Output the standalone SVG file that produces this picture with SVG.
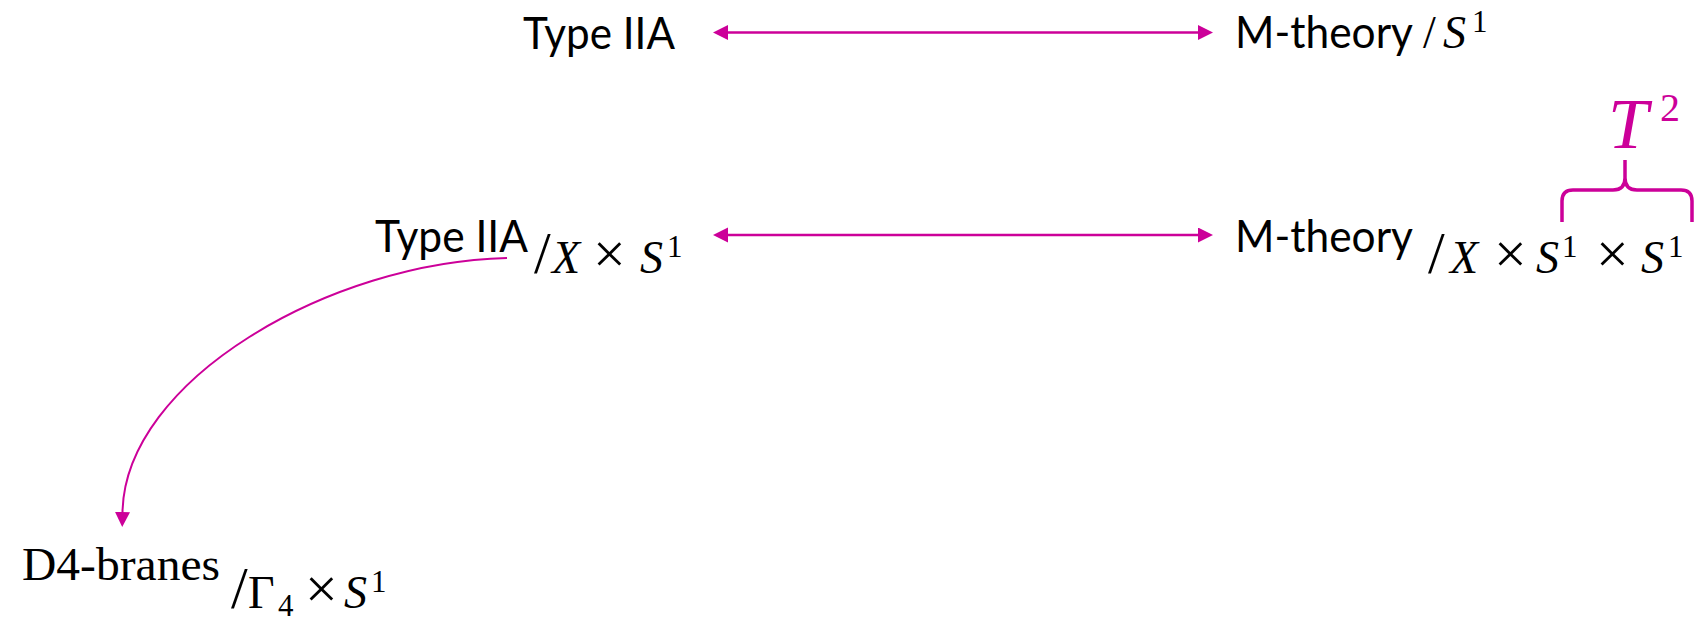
<svg xmlns="http://www.w3.org/2000/svg" width="1695" height="622" viewBox="0 0 1695 622">
  <style>
    .lbl { font-family: Lato, "Open Sans", sans-serif; font-size: 44px; fill: #000; }
    .srf { font-family: "Liberation Serif", serif; font-size: 46px; fill: #000; }
    .m { font-family: "Liberation Serif", serif; font-size: 46px; fill: #000; }
    .it { font-style: italic; }
    .sl { font-size: 60px; }
    .tm { font-size: 58px; }
    .sup { font-size: 31px; }
    .edge { fill: none; stroke: #CC0099; }
    .brace { fill: none; stroke: #CC0099; stroke-width: 3.5; stroke-linecap: butt; stroke-linejoin: round; }
    .hl { font-family: "Liberation Serif", serif; fill: #CC0099; }
  </style>
  <defs>
    <marker id="head" markerUnits="userSpaceOnUse" markerWidth="16" markerHeight="16" refX="0" refY="7.5" orient="auto-start-reverse">
      <path d="M0,0 L15,7.5 L0,15 z" fill="#CC0099"/>
    </marker>
  </defs>

  <!-- top row -->
  <g id="iia-top">
    <text class="lbl" x="523" y="49" textLength="152" lengthAdjust="spacingAndGlyphs">Type IIA</text>
  </g>
  <g id="m-top">
    <text class="lbl" x="1235" y="48" textLength="178" lengthAdjust="spacingAndGlyphs">M-theory</text>
    <text class="m" y="48"><tspan x="1423">/</tspan><tspan class="it" x="1443">S</tspan><tspan class="sup" x="1472" y="32">1</tspan></text>
  </g>

  <!-- middle row -->
  <g id="iia-mid">
    <text class="lbl" x="375" y="252" textLength="153" lengthAdjust="spacingAndGlyphs">Type IIA</text>
  </g>
  <g id="iia-mid-quotient">
    <text class="m" y="273"><tspan class="sl" x="534">/</tspan><tspan class="it" x="552">X</tspan><tspan class="tm" x="593">×</tspan><tspan class="it" x="640">S</tspan><tspan class="sup" x="667" y="257">1</tspan></text>
  </g>
  <g id="m-mid">
    <text class="lbl" x="1235" y="252" textLength="178" lengthAdjust="spacingAndGlyphs">M-theory</text>
    <text class="m" y="273"><tspan class="sl" x="1428">/</tspan><tspan class="it" x="1450">X</tspan><tspan class="tm" x="1494">×</tspan><tspan class="it" x="1536">S</tspan><tspan class="sup" x="1562" y="257">1</tspan><tspan class="tm" x="1596" y="273">×</tspan><tspan class="it" x="1641">S</tspan><tspan class="sup" x="1668" y="257">1</tspan></text>
  </g>

  <!-- T^2 brace over the last two circles -->
  <g id="torus">
    <path class="brace" d="M1562,222 V201 Q1562,190 1573,190 H1613 Q1625,190 1625,178 V160 M1625,178 Q1625,190 1637,190 H1681 Q1692,190 1692,201 V222"/>
    <text class="hl" y="148"><tspan class="it" x="1608" font-size="72">T</tspan><tspan x="1660" y="121" font-size="40">2</tspan></text>
  </g>

  <!-- bottom -->
  <g id="d4">
    <text class="srf" x="22" y="580" textLength="198" lengthAdjust="spacingAndGlyphs">D4-branes</text>
    <text class="m" y="608"><tspan class="sl" x="231">/</tspan><tspan x="248">Γ</tspan><tspan class="sup" x="278" y="616">4</tspan><tspan class="tm" x="305" y="608">×</tspan><tspan class="it" x="344">S</tspan><tspan class="sup" x="371" y="592">1</tspan></text>
  </g>

  <!-- connectors -->
  <g id="connectors">
    <path class="edge" stroke-width="2.5" d="M728,32.5 H1198" marker-start="url(#head)" marker-end="url(#head)"/>
    <path class="edge" stroke-width="2.5" d="M728,235 H1198" marker-start="url(#head)" marker-end="url(#head)"/>
    <path class="edge" stroke-width="2" d="M507,258 C330,262 125,380 122.5,512" marker-end="url(#head)"/>
  </g>
</svg>
